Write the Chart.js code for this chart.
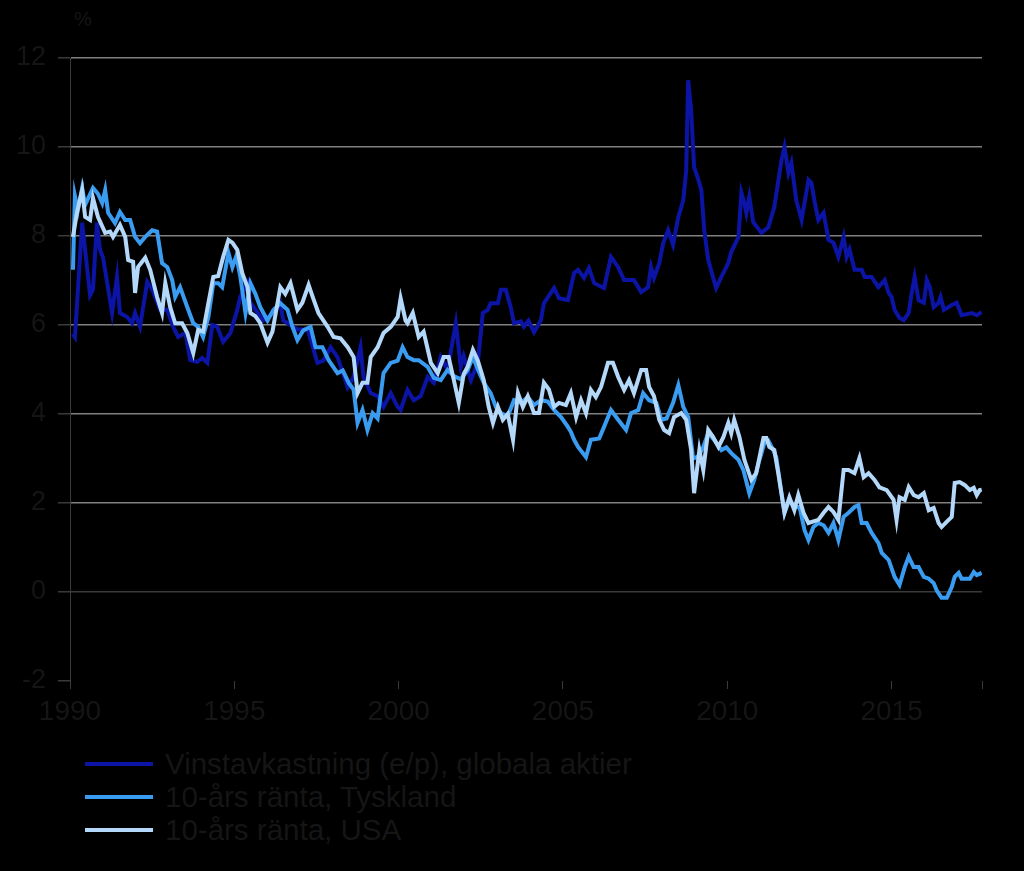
<!DOCTYPE html>
<html>
<head>
<meta charset="utf-8">
<script src="https://cdn.jsdelivr.net/npm/chart.js@4"></script>
<style>
  body { margin: 0; background: #000; font-family: Arial, "Liberation Sans", sans-serif; }
  #wrap { position: relative; width: 1024px; height: 871px; }
  #chartBox { position: absolute; left: 0; top: 0; width: 1024px; height: 740px; }
  #unit { position: absolute; left: 74px; top: 8px; font-size: 20px; color: #151515; }
  .leg { position: absolute; left: 85px; height: 33px; display: flex; align-items: center; font-size: 29.5px; color: #151515; white-space: nowrap; }
  .leg span.sw { display: inline-block; width: 68px; height: 4px; margin-right: 12px; }
</style>
</head>
<body>
<div id="wrap">
  <div id="chartBox"><canvas id="chart" width="1024" height="740"></canvas></div>
  <div id="unit">%</div>
  <div class="leg" style="top:747px"><span class="sw" style="background:#0b14a4"></span>Vinstavkastning (e/p), globala aktier</div>
  <div class="leg" style="top:780px"><span class="sw" style="background:#3a9cf0"></span>10-års ränta, Tyskland</div>
  <div class="leg" style="top:813px"><span class="sw" style="background:#b4d8fa"></span>10-års ränta, USA</div>
</div>
<script>
// Vinstavkastning (e/p), globala aktier
const eyYears = [1990.09,1990.15,1990.37,1990.61,1990.70,1990.82,1990.91,1991.01,1991.28,1991.43,1991.52,1991.74,1991.89,1991.98,1992.13,1992.35,1992.50,1992.74,1992.96,1993.14,1993.29,1993.51,1993.66,1993.87,1994.02,1994.18,1994.33,1994.48,1994.66,1994.88,1995.09,1995.18,1995.40,1995.49,1995.88,1996.19,1996.40,1996.49,1996.92,1997.23,1997.53,1997.71,1997.93,1998.14,1998.45,1998.63,1998.84,1998.93,1999.15,1999.36,1999.54,1999.76,1999.97,2000.06,2000.27,2000.46,2000.67,2000.88,2001.07,2001.28,2001.49,2001.74,2001.89,2001.98,2002.20,2002.41,2002.56,2002.71,2002.80,2003.02,2003.11,2003.26,2003.41,2003.51,2003.72,2003.81,2003.95,2004.12,2004.33,2004.42,2004.63,2004.73,2004.88,2005.15,2005.34,2005.46,2005.64,2005.79,2005.95,2006.25,2006.46,2006.68,2006.86,2007.16,2007.38,2007.59,2007.68,2007.77,2007.93,2008.05,2008.20,2008.35,2008.51,2008.66,2008.75,2008.81,2008.90,2008.99,2009.12,2009.21,2009.30,2009.42,2009.66,2009.82,2010.03,2010.12,2010.34,2010.43,2010.52,2010.58,2010.67,2010.79,2011.04,2011.25,2011.43,2011.65,2011.74,2011.86,2011.95,2012.10,2012.26,2012.47,2012.56,2012.65,2012.77,2012.93,2013.08,2013.23,2013.38,2013.54,2013.63,2013.72,2013.87,2014.09,2014.18,2014.39,2014.60,2014.79,2014.91,2015.00,2015.09,2015.24,2015.37,2015.52,2015.61,2015.70,2015.82,2015.98,2016.07,2016.16,2016.28,2016.43,2016.49,2016.59,2016.83,2016.98,2017.13,2017.44,2017.59,2017.74];
const eyValues = [5.80,5.73,8.30,6.67,6.80,8.30,7.70,7.50,6.27,7.08,6.27,6.18,6.04,6.27,5.96,6.97,6.80,6.34,6.34,5.96,5.73,5.82,5.21,5.17,5.26,5.15,6.00,5.96,5.62,5.82,6.34,6.63,6.94,6.50,6.10,6.27,6.49,6.10,5.90,5.90,5.15,5.20,5.50,5.28,4.60,4.83,5.50,4.83,4.47,4.40,4.16,4.47,4.16,4.09,4.54,4.31,4.40,4.83,4.70,5.28,5.00,6.04,5.06,5.30,4.76,5.15,6.27,6.34,6.49,6.49,6.79,6.79,6.40,6.04,6.08,5.96,6.10,5.84,6.11,6.49,6.72,6.83,6.60,6.56,7.17,7.24,7.06,7.28,6.94,6.83,7.53,7.30,7.01,7.01,6.74,6.85,7.30,7.06,7.39,7.84,8.13,7.80,8.43,8.80,9.48,11.50,10.83,9.55,9.26,9.03,8.13,7.46,6.83,7.08,7.39,7.64,7.98,8.97,8.74,8.52,8.88,8.31,8.07,8.20,8.65,9.71,10.00,9.42,9.64,8.80,8.36,9.26,9.19,8.80,8.36,8.52,7.91,7.85,7.53,7.98,7.53,7.70,7.24,7.24,7.08,7.08,6.85,7.01,6.72,6.63,6.34,6.16,6.11,6.27,6.72,7.08,6.56,6.50,7.01,6.85,6.40,6.50,6.63,6.34,6.45,6.50,6.22,6.27,6.22,6.29];

// 10-års ränta, Tyskland
const deYears = [1990.09,1990.15,1990.24,1990.37,1990.46,1990.70,1990.85,1990.98,1991.07,1991.16,1991.37,1991.52,1991.68,1991.83,1991.98,1992.13,1992.29,1992.50,1992.65,1992.80,1992.96,1993.11,1993.20,1993.35,1993.57,1993.75,1993.90,1994.05,1994.21,1994.36,1994.51,1994.63,1994.82,1994.94,1995.06,1995.18,1995.34,1995.49,1995.64,1995.79,1996.01,1996.19,1996.40,1996.62,1996.77,1996.92,1997.10,1997.32,1997.47,1997.68,1997.87,1998.14,1998.30,1998.48,1998.63,1998.75,1998.90,1999.05,1999.21,1999.36,1999.54,1999.76,1999.97,2000.12,2000.27,2000.46,2000.61,2000.88,2001.07,2001.28,2001.49,2001.68,2001.89,2002.10,2002.26,2002.41,2002.59,2002.80,2002.96,2003.11,2003.32,2003.51,2003.72,2003.93,2004.12,2004.33,2004.54,2004.73,2004.94,2005.15,2005.24,2005.34,2005.46,2005.70,2005.85,2006.10,2006.25,2006.46,2006.68,2006.92,2007.07,2007.29,2007.44,2007.62,2007.84,2007.99,2008.15,2008.35,2008.51,2008.66,2008.81,2008.96,2009.12,2009.27,2009.42,2009.60,2009.82,2009.97,2010.12,2010.34,2010.49,2010.67,2010.82,2010.98,2011.13,2011.25,2011.40,2011.49,2011.65,2011.74,2011.89,2012.04,2012.20,2012.35,2012.47,2012.62,2012.77,2012.93,2013.08,2013.23,2013.38,2013.54,2013.69,2013.87,2013.99,2014.09,2014.24,2014.39,2014.60,2014.70,2014.91,2015.09,2015.24,2015.40,2015.52,2015.67,2015.82,2015.98,2016.13,2016.28,2016.37,2016.52,2016.68,2016.83,2016.92,2017.04,2017.13,2017.29,2017.38,2017.50,2017.59,2017.74];
const deValues = [7.24,8.90,8.58,9.08,8.70,9.08,8.95,8.74,9.03,8.52,8.29,8.54,8.36,8.36,7.98,7.84,7.98,8.13,8.10,7.39,7.30,7.01,6.63,6.85,6.40,6.04,5.96,5.73,6.18,6.94,6.94,6.85,7.62,7.30,7.55,7.10,6.27,6.94,6.70,6.40,6.10,6.34,6.49,6.34,5.96,5.66,5.88,5.96,5.50,5.50,5.21,4.92,4.98,4.70,4.55,3.80,4.09,3.64,4.02,3.90,4.92,5.15,5.20,5.50,5.28,5.21,5.21,5.06,4.81,4.76,4.99,4.85,4.78,4.99,5.28,5.00,4.70,4.47,4.16,4.02,3.95,4.31,4.25,4.38,4.20,4.31,4.28,4.09,3.93,3.71,3.60,3.42,3.26,3.03,3.42,3.45,3.71,4.09,3.87,3.64,4.02,4.09,4.47,4.31,4.25,3.87,3.90,4.25,4.65,4.16,3.93,3.00,3.05,3.26,3.57,3.42,3.19,3.25,3.12,2.97,2.74,2.22,2.52,2.97,3.35,3.40,3.19,3.03,2.22,1.78,2.07,1.91,1.91,1.39,1.17,1.46,1.55,1.50,1.33,1.55,1.17,1.69,1.78,1.91,1.95,1.55,1.55,1.33,1.10,0.88,0.72,0.34,0.16,0.56,0.79,0.56,0.56,0.34,0.30,0.20,0.04,-0.13,-0.13,0.11,0.34,0.43,0.30,0.30,0.30,0.45,0.38,0.43];

// 10-års ränta, USA
const usYears = [1990.09,1990.21,1990.37,1990.46,1990.61,1990.70,1990.85,1991.07,1991.22,1991.31,1991.52,1991.68,1991.77,1991.92,1991.98,1992.07,1992.29,1992.44,1992.65,1992.80,1992.90,1993.05,1993.20,1993.41,1993.57,1993.75,1993.90,1994.05,1994.21,1994.36,1994.51,1994.66,1994.82,1994.94,1995.09,1995.24,1995.40,1995.49,1995.64,1995.79,1996.01,1996.16,1996.40,1996.55,1996.71,1996.92,1997.07,1997.26,1997.40,1997.56,1997.84,1998.02,1998.23,1998.45,1998.63,1998.75,1998.90,1999.05,1999.15,1999.36,1999.54,1999.76,1999.97,2000.06,2000.21,2000.27,2000.43,2000.61,2000.76,2000.98,2001.19,2001.37,2001.52,2001.68,2001.83,2001.98,2002.10,2002.26,2002.41,2002.59,2002.74,2002.87,2003.02,2003.17,2003.32,2003.48,2003.63,2003.78,2003.93,2004.12,2004.27,2004.42,2004.57,2004.73,2004.88,2005.09,2005.24,2005.40,2005.55,2005.70,2005.85,2006.00,2006.16,2006.37,2006.52,2006.68,2006.86,2007.01,2007.16,2007.38,2007.53,2007.62,2007.77,2007.93,2008.08,2008.23,2008.38,2008.60,2008.75,2008.90,2008.99,2009.15,2009.27,2009.42,2009.57,2009.73,2009.88,2010.03,2010.12,2010.21,2010.37,2010.52,2010.73,2010.88,2011.10,2011.19,2011.28,2011.43,2011.55,2011.74,2011.89,2012.04,2012.16,2012.32,2012.47,2012.77,2012.93,2013.08,2013.23,2013.38,2013.54,2013.69,2013.87,2014.02,2014.15,2014.30,2014.48,2014.63,2014.85,2015.06,2015.15,2015.24,2015.40,2015.52,2015.67,2015.82,2015.98,2016.13,2016.28,2016.43,2016.52,2016.68,2016.83,2016.92,2017.07,2017.23,2017.38,2017.50,2017.59,2017.68,2017.74];
const usValues = [7.98,8.52,9.03,8.43,8.36,8.85,8.43,8.07,8.10,7.98,8.25,7.98,7.46,7.42,6.72,7.30,7.51,7.24,6.63,6.27,6.94,6.40,6.04,6.04,5.82,5.37,5.89,5.85,6.49,7.08,7.10,7.53,7.91,7.85,7.69,7.17,6.85,6.27,6.20,6.04,5.60,5.85,6.85,6.70,6.94,6.34,6.50,6.90,6.60,6.27,5.96,5.73,5.70,5.50,5.28,4.47,4.70,4.70,5.28,5.50,5.82,5.96,6.18,6.60,6.10,6.04,6.27,5.73,5.85,5.15,4.92,5.28,5.28,4.76,4.25,4.90,5.06,5.44,5.20,4.76,4.16,3.80,4.16,3.87,4.00,3.42,4.47,4.16,4.40,4.02,4.02,4.70,4.55,4.16,4.25,4.20,4.47,3.93,4.31,4.02,4.54,4.38,4.61,5.15,5.15,4.83,4.54,4.76,4.47,4.99,4.99,4.61,4.40,3.87,3.64,3.57,3.93,4.02,3.87,3.19,2.22,3.19,2.74,3.64,3.48,3.26,3.48,3.80,3.57,3.87,3.48,2.97,2.52,2.67,3.46,3.46,3.26,3.19,2.67,1.78,2.13,1.84,2.18,1.78,1.55,1.62,1.78,1.91,1.80,1.62,2.74,2.74,2.67,3.01,2.58,2.67,2.52,2.35,2.29,2.07,1.62,2.13,2.07,2.36,2.18,2.13,2.22,1.84,1.89,1.55,1.46,1.58,1.69,2.45,2.47,2.40,2.29,2.34,2.18,2.29,2.30];

const yTicks = [-2, 0, 2, 4, 6, 8, 10, 12];
const xTickYears = [1990, 1995, 2000, 2005, 2010, 2015];

const textColor = '#151515';
const toPoints = (xs, ys) => xs.map((x, i) => ({ x: x, y: ys[i] }));

const ctx = document.getElementById('chart').getContext('2d');
const chart = new Chart(ctx, {
  type: 'line',
  data: {
    datasets: [
      {
        label: 'Vinstavkastning (e/p), globala aktier',
        data: toPoints(eyYears, eyValues),
        borderColor: '#0b14a4',
        borderWidth: 4,
        order: 3,
      },
      {
        label: '10-års ränta, Tyskland',
        data: toPoints(deYears, deValues),
        borderColor: '#3a9cf0',
        borderWidth: 4,
        order: 2,
      },
      {
        label: '10-års ränta, USA',
        data: toPoints(usYears, usValues),
        borderColor: '#b4d8fa',
        borderWidth: 4,
        order: 1,
      },
    ],
  },
  options: {
    responsive: false,
    animation: false,
    layout: { padding: { top: 58, right: 42, left: 0, bottom: 0 } },
    elements: { point: { radius: 0 }, line: { tension: 0 } },
    plugins: { legend: { display: false }, tooltip: { enabled: false } },
    scales: {
      x: {
        type: 'linear',
        min: 1990,
        max: 2017.75,
        afterBuildTicks: (axis) => {
          axis.ticks = xTickYears.map((v) => ({ value: v })).concat([{ value: 2017.75 }])
        },
        afterFit: (axis) => { axis.height = 59 },
        border: { display: false },
        grid: { drawOnChartArea: false, drawTicks: true, tickLength: 8, tickColor: '#3a3a3a', lineWidth: 1 },
        ticks: {
          color: textColor,
          font: { size: 28, family: 'Arial, "Liberation Sans"' },
          padding: 6,
          maxRotation: 0,
          autoSkip: false,
          callback: (v) => (xTickYears.includes(v) ? String(v) : ''),
        },
      },
      y: {
        min: -2,
        max: 12,
        afterBuildTicks: (axis) => { axis.ticks = yTicks.map((v) => ({ value: v })) },
        afterFit: (axis) => { axis.width = 70 },
        border: { display: true, color: '#3a3a3a', width: 1 },
        grid: {
          color: (c) => (c.tick.value === 0 ? '#3a3a3a' : c.tick.value === -2 ? 'rgba(0,0,0,0)' : '#808080'),
          lineWidth: 1.5,
          drawTicks: true,
          tickLength: 12,
          tickColor: '#3a3a3a',
        },
        ticks: {
          color: textColor,
          font: { size: 27, family: 'Arial, "Liberation Sans"' },
          padding: 12,
        },
      },
    },
  },
})
</script>
</body>
</html>
